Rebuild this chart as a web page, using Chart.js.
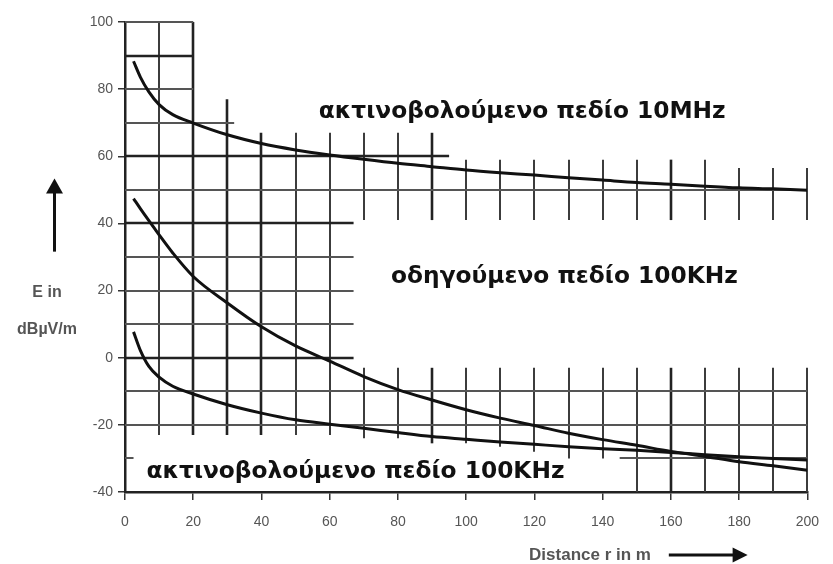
<!DOCTYPE html>
<html>
<head>
<meta charset="utf-8">
<script src="https://cdn.jsdelivr.net/npm/chart.js@4/dist/chart.umd.min.js"></script>
<style>
  html, body { margin: 0; padding: 0; background: #fff; }
  #wrap { width: 833px; height: 564px; }
</style>
</head>
<body>
<div id="wrap"><canvas id="chart" width="833" height="564"></canvas></div>
<script>
// Field strength E (dBµV/m) against distance r (m)
const distance = [2.5, 4.5, 7, 10, 14, 20, 30, 40, 50, 60, 70, 80, 90, 100, 110, 120, 130, 140, 150, 160, 170, 180, 190, 200];
const radiated10MHz = [88.3, 83.6, 79.2, 75.4, 72.4, 69.9, 66.4, 63.8, 61.9, 60.4, 59.1, 57.9, 56.9, 55.9, 55.1, 54.4, 53.6, 52.9, 52.2, 51.7, 51.1, 50.6, 50.3, 49.9];
const conducted100kHz = [47.4, 44.4, 40.8, 36.6, 31.2, 24.2, 16.3, 9.2, 3.5, -1.0, -5.6, -9.5, -12.6, -15.5, -18.0, -20.2, -22.5, -24.4, -26.1, -27.9, -29.4, -31.0, -32.2, -33.5];
const radiated100kHz = [7.7, 2.2, -2.6, -5.8, -8.5, -10.8, -14.0, -16.5, -18.5, -19.8, -21.0, -22.3, -23.5, -24.3, -25.1, -25.8, -26.5, -27.1, -27.6, -28.2, -28.9, -29.5, -30.0, -30.5];

const xTicks = [0, 20, 40, 60, 80, 100, 120, 140, 160, 180, 200];
const yTicks = [-40, -20, 0, 20, 40, 60, 80, 100];

const curveLabels = [
  { text: 'ακτινοβολούμενο πεδίο 10MHz', x: 56.8, y: 71.3 },
  { text: 'οδηγούμενο πεδίο 100KHz', x: 78.0, y: 22.2 },
  { text: 'ακτινοβολούμενο πεδίο 100KHz', x: 6.3, y: -35.9 }
];

// Broken grid: vertical runs [x, fromE, toE] and horizontal runs [E, fromX, toX]
const verticalRuns = [
  [10, 100, -23], [20, 100, -23], [30, 77, -23], [40, 67, -23], [50, 67, -23], [60, 67, -23],
  [70, 67, 41], [80, 67, 41], [90, 67, 41],
  [100, 59, 41], [110, 59, 41], [120, 59, 41], [130, 59, 41], [140, 59, 41], [150, 59, 41], [160, 59, 41], [170, 59, 41],
  [180, 56.5, 41], [190, 56.5, 41], [200, 56.5, 41],
  [70, -3, -24], [80, -3, -24], [90, -3, -25.5], [100, -3, -25.5], [110, -3, -26.5], [120, -3, -28], [130, -3, -30], [140, -3, -30],
  [150, -3, -40], [160, -3, -40], [170, -3, -40], [180, -3, -40], [190, -3, -40], [200, -3, -40]
];
const horizontalRuns = [
  [100, 0, 20], [90, 0, 20], [80, 0, 20], [70, 0, 32], [60, 0, 95], [50, 0, 200],
  [40, 0, 67], [30, 0, 67], [20, 0, 67], [10, 0, 67], [0, 0, 67],
  [-10, 0, 200], [-20, 0, 200], [-30, 0, 2.5], [-30, 145, 200]
];
const heavyX = [20, 30, 40, 90, 160];
const heavyY = [90, 60, 40, 0];

const toPoints = ys => distance.map((x, i) => ({ x, y: ys[i] }));

const brokenGrid = {
  id: 'brokenGrid',
  beforeDatasetsDraw(chart) {
    const { ctx, scales: { x, y } } = chart;
    ctx.save();
    ctx.lineCap = 'butt';
    verticalRuns.forEach(([v, a, b]) => {
      const heavy = heavyX.includes(v);
      ctx.strokeStyle = heavy ? '#222' : '#3c3c3c';
      ctx.lineWidth = heavy ? 2.6 : 2;
      const px = Math.round(x.getPixelForValue(v));
      ctx.beginPath();
      ctx.moveTo(px, y.getPixelForValue(a));
      ctx.lineTo(px, y.getPixelForValue(b));
      ctx.stroke();
    });
    horizontalRuns.forEach(([v, a, b]) => {
      const heavy = heavyY.includes(v);
      ctx.strokeStyle = heavy ? '#222' : '#555';
      ctx.lineWidth = heavy ? 2.6 : 2;
      const py = Math.round(y.getPixelForValue(v));
      ctx.beginPath();
      ctx.moveTo(x.getPixelForValue(a), py);
      ctx.lineTo(x.getPixelForValue(b), py);
      ctx.stroke();
    });
    ctx.restore();
  }
};

const annotations = {
  id: 'annotations',
  afterDraw(chart) {
    const { ctx, chartArea: area, scales: { x, y } } = chart;
    ctx.save();
    // curve names
    ctx.fillStyle = '#111';
    ctx.font = 'bold 23.3px "DejaVu Sans"';
    ctx.textBaseline = 'alphabetic';
    ctx.textAlign = 'left';
    curveLabels.forEach(l => ctx.fillText(l.text, x.getPixelForValue(l.x), y.getPixelForValue(l.y)));

    // axis titles
    ctx.fillStyle = '#555';
    ctx.font = 'bold 16px "Liberation Sans"';
    ctx.textAlign = 'center';
    ctx.textBaseline = 'middle';
    const titleX = area.left - 78;
    ctx.fillText('E in', titleX, y.getPixelForValue(19.5));
    ctx.fillText('dBµV/m', titleX, y.getPixelForValue(8.5));
    ctx.font = 'bold 17px "Liberation Sans"';
    ctx.fillText('Distance r in m', x.getPixelForValue(136.3), area.bottom + 63);

    // direction arrows
    ctx.fillStyle = '#111';
    ctx.strokeStyle = '#111';
    ctx.lineWidth = 3;
    const ax = area.left - 70.5;
    const top = y.getPixelForValue(53.4);
    ctx.beginPath();
    ctx.moveTo(ax, y.getPixelForValue(31.6));
    ctx.lineTo(ax, top + 12);
    ctx.stroke();
    ctx.beginPath();
    ctx.moveTo(ax - 8.5, top + 15);
    ctx.lineTo(ax + 8.5, top + 15);
    ctx.lineTo(ax, top);
    ctx.closePath();
    ctx.fill();

    const ay = area.bottom + 63;
    const tip = x.getPixelForValue(182.5);
    ctx.beginPath();
    ctx.moveTo(x.getPixelForValue(159.4), ay);
    ctx.lineTo(tip - 12, ay);
    ctx.stroke();
    ctx.beginPath();
    ctx.moveTo(tip - 15, ay - 7.5);
    ctx.lineTo(tip - 15, ay + 7.5);
    ctx.lineTo(tip, ay);
    ctx.closePath();
    ctx.fill();
    ctx.restore();
  }
};

const curveStyle = {
  borderColor: '#111',
  borderWidth: 3,
  pointRadius: 0,
  fill: false,
  cubicInterpolationMode: 'monotone'
};

new Chart(document.getElementById('chart'), {
  type: 'line',
  data: {
    datasets: [
      { label: 'ακτινοβολούμενο πεδίο 10MHz', data: toPoints(radiated10MHz), ...curveStyle },
      { label: 'οδηγούμενο πεδίο 100KHz', data: toPoints(conducted100kHz), ...curveStyle },
      { label: 'ακτινοβολούμενο πεδίο 100KHz', data: toPoints(radiated100kHz), ...curveStyle }
    ]
  },
  options: {
    responsive: false,
    animation: false,
    devicePixelRatio: 1,
    layout: { padding: { top: 22, right: 16, left: 0, bottom: 0 } },
    plugins: { legend: { display: false }, tooltip: { enabled: false } },
    scales: {
      x: {
        type: 'linear',
        min: 0,
        max: 200,
        afterBuildTicks: s => { s.ticks = xTicks.map(value => ({ value })); },
        afterFit: s => { s.height = 72; },
        grid: { drawOnChartArea: false, drawTicks: true, tickLength: 8, color: '#333', lineWidth: 1.5 },
        border: { color: '#222', width: 2.5 },
        ticks: { color: '#555', padding: 14, maxRotation: 0, autoSkip: false, font: { family: '"Liberation Sans"', size: 14 } }
      },
      y: {
        type: 'linear',
        min: -40,
        max: 100,
        afterBuildTicks: s => { s.ticks = yTicks.map(value => ({ value })); },
        afterFit: s => { s.width = 125; },
        grid: { drawOnChartArea: false, drawTicks: true, tickLength: 7, color: '#333', lineWidth: 1.5 },
        border: { color: '#222', width: 2.5 },
        ticks: { color: '#555', padding: 5, autoSkip: false, font: { family: '"Liberation Sans"', size: 14 } }
      }
    }
  },
  plugins: [brokenGrid, annotations]
});
</script>
</body>
</html>
